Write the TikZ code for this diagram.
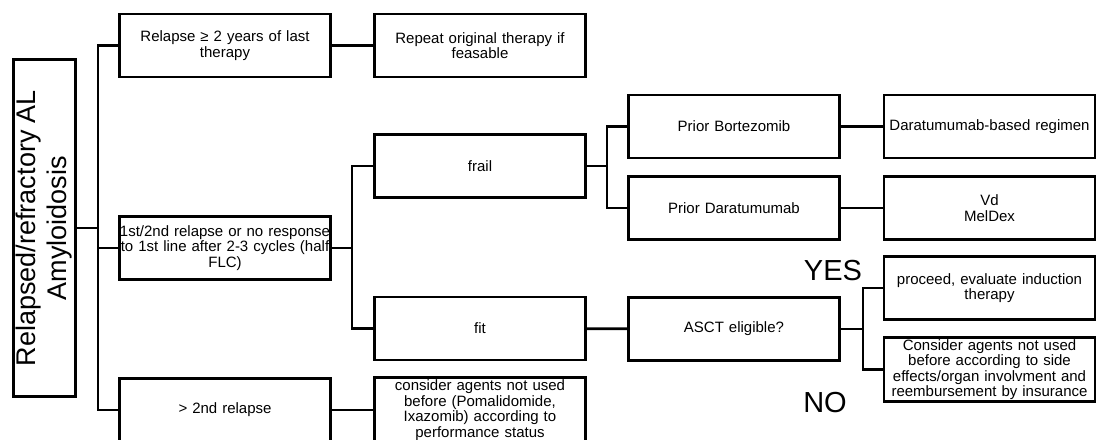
\documentclass[tikz,border=0pt]{standalone}
\usepackage{fontspec}
\setmainfont{Liberation Sans}
\usepackage{tikz}

\tikzset{
  box/.style={draw,line width=2.8pt,minimum width=211pt,minimum height=63pt,
    text width=211pt,inner xsep=0pt,inner ysep=2pt,align=center,font=\fontsize{15}{15.5}\selectfont},
  con/.style={line width=2.8pt},
  big/.style={inner sep=0pt,font=\fontsize{29}{31}\selectfont}
}

\begin{document}
\begin{tikzpicture}[x=1pt,y=-1pt]
\useasboundingbox (0,0) rectangle (1100,439);

\node [draw,line width=2.8pt,rotate=90,minimum width=337pt,minimum height=62pt,
  inner sep=0pt,align=center,font=\fontsize{27}{31}\selectfont] (r) at (44.5,228)
  {Relapsed/refractory AL\\Amyloidosis};

\node [box] (a) at (225,45.5) {Relapse ≥ 2 years of last\\therapy};
\node [box] (b) at (225,248) {1st/2nd relapse or no response\\to 1st line after 2-3 cycles (half\\FLC)};
\node [box] (c) at (225,410) {> 2nd relapse};

\node [box] (a2) at (480,45.5) {Repeat original therapy if\\feasable};
\node [box] (f) at (480,166) {frail};
\node [box] (g) at (480,328.5) {fit};
\node [box] (c2) at (480,410) {consider agents not used\\before (Pomalidomide,\\Ixazomib) according to\\performance status};

\node [box] (pb) at (734,126.5) {Prior Bortezomib};
\node [box] (pd) at (734,208) {Prior Daratumumab};
\node [box] (e) at (734,329) {ASCT eligible?};

\node [box] (db) at (989.5,126.5) {Daratumumab-based regimen};
\node [box] (vd) at (989.5,208) {Vd\\MelDex};
\node [box] (y) at (989.5,288) {proceed, evaluate induction\\therapy};
\node [box] (n) at (989.5,369.5) {Consider agents not used\\before according to side\\effects/organ involvment and\\reembursement by insurance};

\node [big] (yes) at (833,271) {YES};
\node [big] (no) at (825,402.5) {NO};

\draw [con] (r.south) -- ++(21,0) coordinate (t0);
\draw [con] (a.west) -| (t0) |- (c.west);
\draw [con] (b.west) -- (b.west -| t0);

\draw [con] (a) -- (a2);
\draw [con] (c) -- (c2);

\draw [con] (b.east) -- ++(20,0) coordinate (t1);
\draw [con] (f.west) -| (t1) |- (g.west);

\draw [con] (f.east) -- ++(20,0) coordinate (t2);
\draw [con] (pb.west) -| (t2) |- (pd.west);
\draw [con] (pb) -- (db);
\draw [con] (pd) -- (vd);

\draw [con] (g) -- (e);
\draw [con] (e.east) -- ++(22,0) coordinate (t3);
\draw [con] (y.west) -| (t3) |- (n.west);

\end{tikzpicture}
\end{document}
